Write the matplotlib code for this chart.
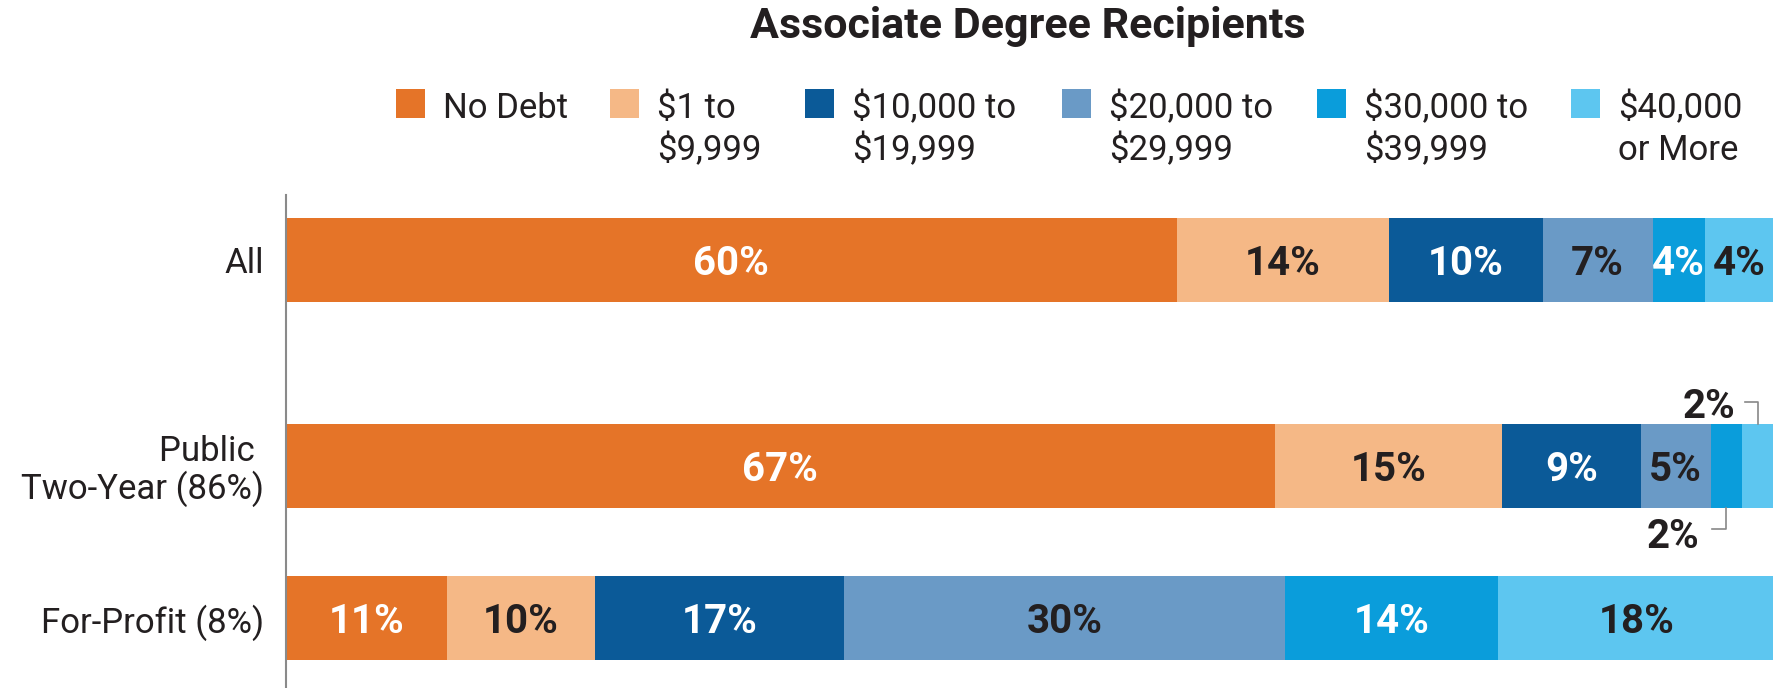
import matplotlib.pyplot as plt
from matplotlib.patches import Rectangle

plt.rcParams["font.family"] = ["Roboto", "DejaVu Sans"]

# data (share of recipients, % of bar width)
groups = ["All", "Public \nTwo-Year (86%)", "For-Profit (8%)"]
debt_bins = ["No Debt", "$1 to\n$9,999", "$10,000 to\n$19,999",
             "$20,000 to\n$29,999", "$30,000 to\n$39,999", "$40,000\nor More"]
all_vals = [59.9, 14.3, 10.3, 7.4, 3.5, 4.6]
public_vals = [66.5, 15.3, 9.3, 4.7, 2.1, 2.2]
forprofit_vals = [10.8, 10.0, 16.7, 29.7, 14.3, 18.6]
all_labels = ["60%", "14%", "10%", "7%", "4%", "4%"]
public_labels = ["67%", "15%", "9%", "5%", "2%", "2%"]
forprofit_labels = ["11%", "10%", "17%", "30%", "14%", "18%"]

colors = ["#E57428", "#F5B886", "#0B5A98", "#6A9AC6", "#0A9DDB", "#5DC6F0"]
text_colors = ["white", "#231F20", "white", "#231F20", "white", "#231F20"]
dark = "#231F20"

W, H = 1773, 688
fig = plt.figure(figsize=(W / 100, H / 100), dpi=100)
ax = fig.add_axes([286 / W, 0, 1 - 286 / W, 1 - 195 / H])

ypos = [0, 2.45, 4.27]
rows = [all_vals, public_vals, forprofit_vals]
row_labels = [all_labels, public_labels, forprofit_labels]

for y, vals, labs in zip(ypos, rows, row_labels):
    left = 0
    for i, (v, lab) in enumerate(zip(vals, labs)):
        ax.barh(y, v, left=left, height=1.0, color=colors[i], linewidth=0)
        # tiny public two-year segments get call-outs instead
        if not (y == ypos[1] and i >= 4):
            ax.text(left + v / 2, y, lab, ha="center", va="center_baseline",
                    color=text_colors[i], fontsize=29, fontweight="bold")
        left += v

# call-outs for the two 2% segments of public two-year
pv = public_vals
cx5 = sum(pv[:4]) + pv[4] / 2
cx6 = sum(pv[:5]) + pv[5] / 2
yb = ypos[1]
ax.plot([cx6, cx6, cx6 - 0.85], [yb - 0.5, yb - 0.76, yb - 0.76],
        color="#888888", lw=1.2, clip_on=False)
ax.text(cx6 - 1.5, yb - 0.74, public_labels[5], ha="right", va="center_baseline",
        color=dark, fontsize=29, fontweight="bold")
ax.plot([cx5, cx5, cx5 - 0.95], [yb + 0.5, yb + 0.76, yb + 0.76],
        color="#888888", lw=1.2, clip_on=False)
ax.text(cx5 - 1.8, yb + 0.8, public_labels[4], ha="right", va="center_baseline",
        color=dark, fontsize=29, fontweight="bold")

ax.set_xlim(0, 100)
ax.set_ylim(5.1, -0.774)
ax.set_yticks(ypos)
ax.set_yticklabels(groups, fontsize=25, color=dark, linespacing=1.1)
ax.tick_params(axis="y", length=0, pad=16)
ax.set_xticks([])
for s in ["top", "right", "bottom"]:
    ax.spines[s].set_visible(False)
ax.spines["left"].set_color("#8a8a8a")
ax.spines["left"].set_linewidth(1.5)

# title
fig.text(1028 / W, 1 - 38 / H, "Associate Degree Recipients", ha="center",
         va="baseline", fontsize=31, fontweight="bold", color=dark)

# legend, drawn by hand so the swatch sits on the first text line
sw_x = [396, 610, 805, 1062, 1317, 1571]
for x, lab, c in zip(sw_x, debt_bins, colors):
    fig.add_artist(Rectangle((x / W, 1 - 118 / H), 29 / W, 29 / H,
                             transform=fig.transFigure, color=c, lw=0))
    for k, line in enumerate(lab.split("\n")):
        fig.text((x + 47) / W, 1 - (118 + 42 * k) / H, line, ha="left",
                 va="baseline", fontsize=25, color=dark)

fig.savefig("out.png", dpi=100)
